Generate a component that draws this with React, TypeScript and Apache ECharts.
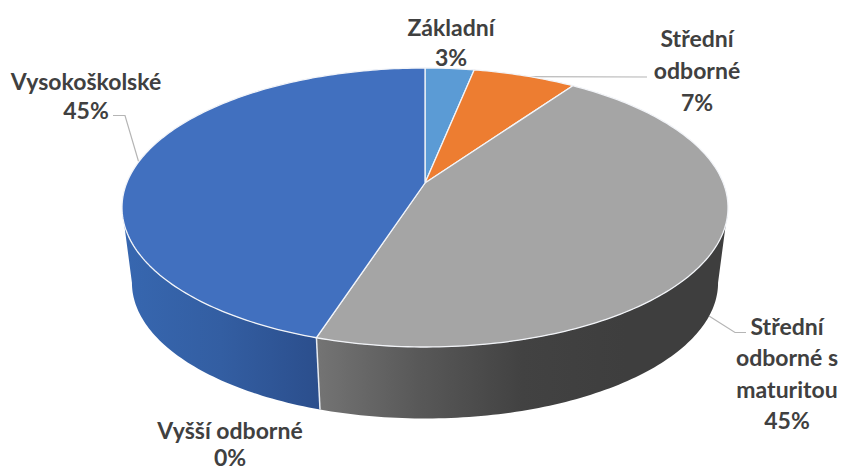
import React, { useEffect, useRef } from "react";
import * as echarts from "echarts";

const categories = ["Základní", "Střední\nodborné", "Střední\nodborné s\nmaturitou", "Vyšší odborné", "Vysokoškolské"];
const values = [3.1, 6.5, 45.3, 0, 45.1];
const topColors = ["#5b9bd5", "#ed7d31", "#a5a5a5", "#7f7f7f", "#4170bf"];
const wallStops: string[][] = [
  ["#3f76a8", "#3f76a8"],
  ["#b05a20", "#b05a20"],
  ["#747474", "#585858", "#424242", "#3e3e3e", "#3e3e3e"],
  ["#666666", "#666666"],
  ["#3767b0", "#335ea2", "#2b4e8c"],
];

// label anchor (centre x, centre y) and line height, in pixels
const labelLayout = [
  { x: 451, y: 42, lh: 30 },
  { x: 697, y: 70, lh: 32 },
  { x: 787, y: 373, lh: 31.5 },
  { x: 230, y: 443, lh: 27 },
  { x: 86, y: 95, lh: 29 },
];
const leaderLines = [
  [[113, 115.5], [125, 115.5], [139, 163]],
  [[477, 76.5], [647, 77]],
  [[709, 316], [735, 332.5], [746, 332.5]],
];

// Projection of the disc: a perspective view of a flat cylinder
const K = 0.1756;
const TOP = { cx: 425, cy: 183, a: 298.3, b: 135.2 };
const BOTTOM = { cx: 425, cy: 259, a: 288.5, b: 131.5 };
const project = (p: typeof TOP, deg: number) => {
  const t = (deg * Math.PI) / 180;
  const u = Math.sin(t);
  const v = -Math.cos(t);
  const w = 1 - K * v;
  return [p.cx + (p.a * u) / w, p.cy + (p.b * v) / w];
};
const arc = (p: typeof TOP, from: number, to: number) => {
  const pts: number[][] = [];
  const n = Math.max(1, Math.ceil(Math.abs(to - from)));
  for (let i = 0; i <= n; i++) pts.push(project(p, from + ((to - from) * i) / n));
  return pts;
};
const total = values.reduce((s, v) => s + v, 0);
const bounds = values.reduce<number[]>((acc, v) => [...acc, acc[acc.length - 1] + (v / total) * 360], [0]);
const WALL_FROM = (Math.acos(-K) * 180) / Math.PI;
const WALL_TO = 360 - WALL_FROM;

export default function App() {
  const ref = useRef<HTMLDivElement>(null);
  useEffect(() => {
    document.body.style.margin = "0";
    const chart = echarts.init(ref.current!, undefined, { renderer: "svg" });
    const data = categories.map((name, i) => ({ name, value: values[i] }));
    chart.setOption({
      animation: false,
      backgroundColor: "#ffffff",
      series: [
        {
          type: "custom",
          name: "walls",
          coordinateSystem: "none",
          z: 1,
          silent: true,
          data,
          renderItem: (params: any) => {
            const i = params.dataIndex;
            const from = Math.max(bounds[i], WALL_FROM);
            const to = Math.min(bounds[i + 1], WALL_TO);
            if (values[i] === 0 || to <= from) return { type: "group", children: [] };
            const stops = wallStops[i];
            return {
              type: "polygon",
              shape: { points: [...arc(TOP, from, to), ...arc(BOTTOM, to, from)] },
              style: {
                fill: new echarts.graphic.LinearGradient(
                  0,
                  0,
                  1,
                  0,
                  stops.map((color, k) => ({ offset: k / (stops.length - 1), color })),
                ),
                stroke: "none",
              },
            };
          },
        },
        {
          type: "custom",
          name: "seams",
          coordinateSystem: "none",
          z: 2,
          silent: true,
          data,
          renderItem: (params: any) => {
            const i = params.dataIndex;
            const at = bounds[i];
            if (values[i] === 0 || at < WALL_FROM || at > WALL_TO) return { type: "group", children: [] };
            const [x1, y1] = project(TOP, at);
            const [x2, y2] = project(BOTTOM, at);
            return {
              type: "line",
              shape: { x1, y1, x2, y2 },
              style: { stroke: "#e8ecf2", lineWidth: 1.5 },
            };
          },
        },
        {
          type: "custom",
          name: "top",
          coordinateSystem: "none",
          z: 3,
          silent: true,
          data,
          renderItem: (params: any) => {
            const i = params.dataIndex;
            if (values[i] === 0) return { type: "group", children: [] };
            return {
              type: "polygon",
              shape: { points: [[TOP.cx, TOP.cy], ...arc(TOP, bounds[i], bounds[i + 1])] },
              style: { fill: topColors[i], stroke: "#f2f4f8", lineWidth: 1.3, lineJoin: "round" },
            };
          },
        },
        {
          type: "custom",
          name: "labels",
          coordinateSystem: "none",
          z: 4,
          silent: true,
          data,
          renderItem: (params: any) => {
            const i = params.dataIndex;
            const l = labelLayout[i];
            const pct = Math.round((values[i] / total) * 100);
            return {
              type: "text",
              x: l.x,
              y: l.y,
              style: {
                text: `${categories[i]}\n${pct}%`,
                fill: "#404040",
                font: 'bold 23px Lato, "Noto Sans", sans-serif',
                align: "center",
                verticalAlign: "middle",
                lineHeight: l.lh,
              },
            };
          },
        },
        {
          type: "custom",
          name: "leaders",
          coordinateSystem: "none",
          z: 2,
          silent: true,
          data: leaderLines.map((_, i) => i),
          renderItem: (params: any) => ({
            type: "polyline",
            shape: { points: leaderLines[params.dataIndex] },
            style: { stroke: "#b5b5b5", lineWidth: 1.2, fill: "none" },
          }),
        },
      ],
    });
    return () => chart.dispose();
  }, []);
  return <div ref={ref} style={{ width: 843, height: 470 }} />;
}
